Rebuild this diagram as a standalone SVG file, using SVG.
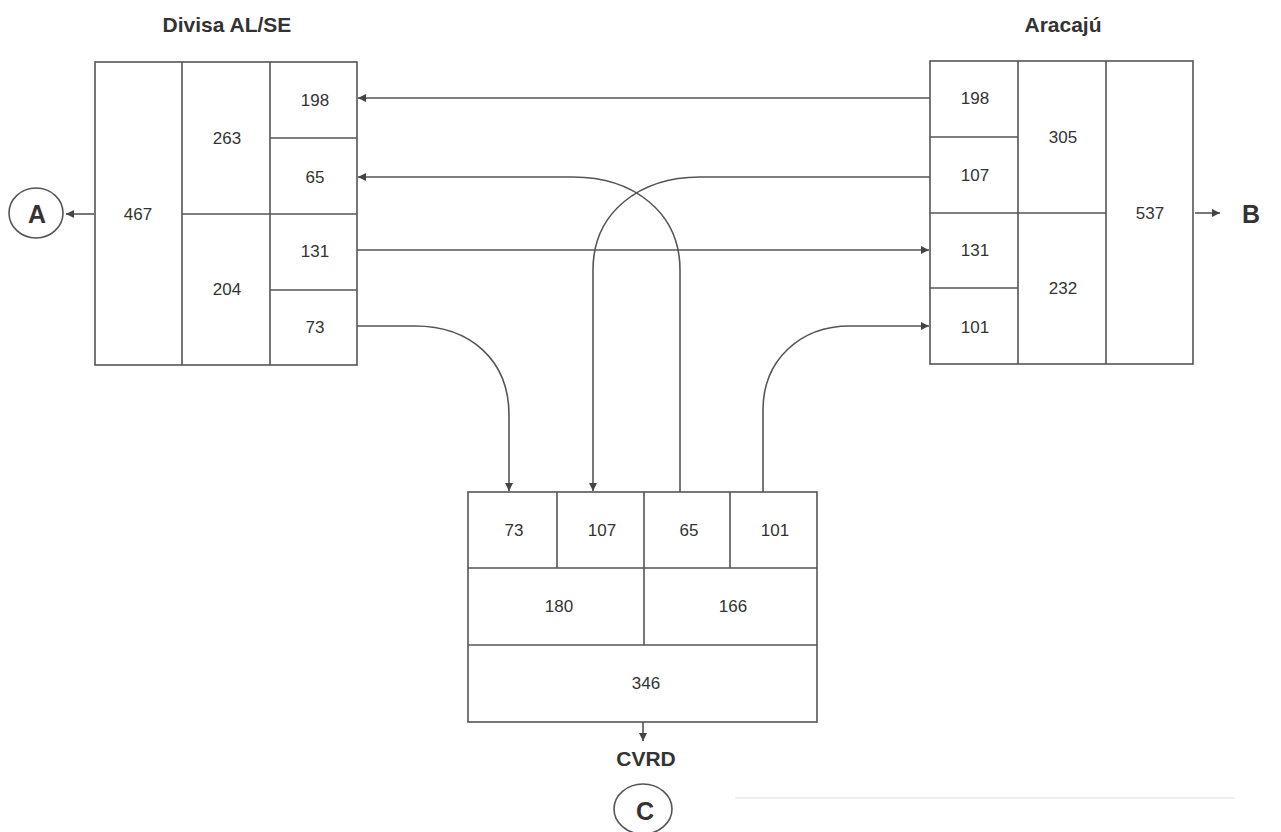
<svg xmlns="http://www.w3.org/2000/svg" width="1281" height="832" viewBox="0 0 1281 832">
<defs>
<marker id="ah" viewBox="0 0 10 10" refX="10" refY="5" markerWidth="10" markerHeight="8" markerUnits="userSpaceOnUse" orient="auto">
<path d="M0,0 L10,5 L0,10 z" fill="#444"/>
</marker>
<style>
.box{fill:#fff;stroke:#555;stroke-width:1.6}
.div{stroke:#555;stroke-width:1.6;fill:none}
.n{font-family:"Liberation Sans",Arial,sans-serif;font-size:17px;fill:#333;text-anchor:middle;dominant-baseline:central}
.t{font-family:"Liberation Sans",Arial,sans-serif;font-size:21px;font-weight:bold;fill:#333;text-anchor:middle}
.big{font-family:"Liberation Sans",Arial,sans-serif;font-size:25px;font-weight:bold;fill:#333;text-anchor:middle;dominant-baseline:central}
.c{fill:none;stroke:#555;stroke-width:1.6;marker-end:url(#ah)}
.ell{fill:#fff;stroke:#555;stroke-width:1.6}
</style>
</defs>
<rect width="1281" height="832" fill="#fff"/>

<g id="divisa">
<text class="t" x="227" y="32">Divisa AL/SE</text>
<rect class="box" x="95" y="62" width="262" height="303"/>
<path class="div" d="M182,62 V365 M270,62 V365 M182,214 H357 M270,138 H357 M270,290 H357"/>
<text class="n" x="138" y="214">467</text>
<text class="n" x="227" y="138">263</text>
<text class="n" x="227" y="289">204</text>
<text class="n" x="315" y="100">198</text>
<text class="n" x="315" y="177">65</text>
<text class="n" x="315" y="251">131</text>
<text class="n" x="315" y="327">73</text>
</g>

<g id="aracaju">
<text class="t" x="1063" y="32">Aracajú</text>
<rect class="box" x="930" y="61" width="263" height="303"/>
<path class="div" d="M1018,61 V364 M1106,61 V364 M930,137 H1018 M930,213 H1106 M930,288 H1018"/>
<text class="n" x="975" y="98">198</text>
<text class="n" x="975" y="175">107</text>
<text class="n" x="975" y="250">131</text>
<text class="n" x="975" y="327">101</text>
<text class="n" x="1063" y="137">305</text>
<text class="n" x="1063" y="288">232</text>
<text class="n" x="1150" y="213">537</text>
</g>

<g id="cvrd">
<rect class="box" x="468" y="492" width="349" height="230"/>
<path class="div" d="M468,568 H817 M468,645 H817 M557,492 V568 M644,492 V645 M730,492 V568"/>
<text class="n" x="514" y="530">73</text>
<text class="n" x="602" y="530">107</text>
<text class="n" x="689" y="530">65</text>
<text class="n" x="775" y="530">101</text>
<text class="n" x="559" y="606">180</text>
<text class="n" x="733" y="606">166</text>
<text class="n" x="646" y="683">346</text>
<text class="t" x="646" y="766">CVRD</text>
</g>

<g id="nodeA">
<ellipse class="ell" cx="36" cy="213" rx="27" ry="25"/>
<text class="big" x="37" y="214">A</text>
</g>
<g id="nodeB">
<text class="big" x="1251" y="214">B</text>
</g>
<g id="nodeC">
<ellipse class="ell" cx="643" cy="809" rx="29" ry="25"/>
<text class="big" x="645" y="811">C</text>
</g>

<g id="connectors">
<path class="c" d="M930,98 H358"/>
<path class="c" d="M357,250 H929"/>
<path class="c" d="M930,177 H700 C640,177 593,212 593,270 V491"/>
<path class="c" d="M680,492 V270 C680,212 633,177 573,177 H358"/>
<path class="c" d="M357,326 H415 C470,326 509,360 509,415 V491"/>
<path class="c" d="M763,492 V410 C763,360 800,326 850,326 H929"/>
<path class="c" d="M94,214 H66"/>
<path class="c" d="M1195,213 H1220"/>
<path class="c" d="M643,722 V741"/>
</g>
<line x1="735" y1="798" x2="1235" y2="798" stroke="#ddd" stroke-width="1"/>
</svg>
